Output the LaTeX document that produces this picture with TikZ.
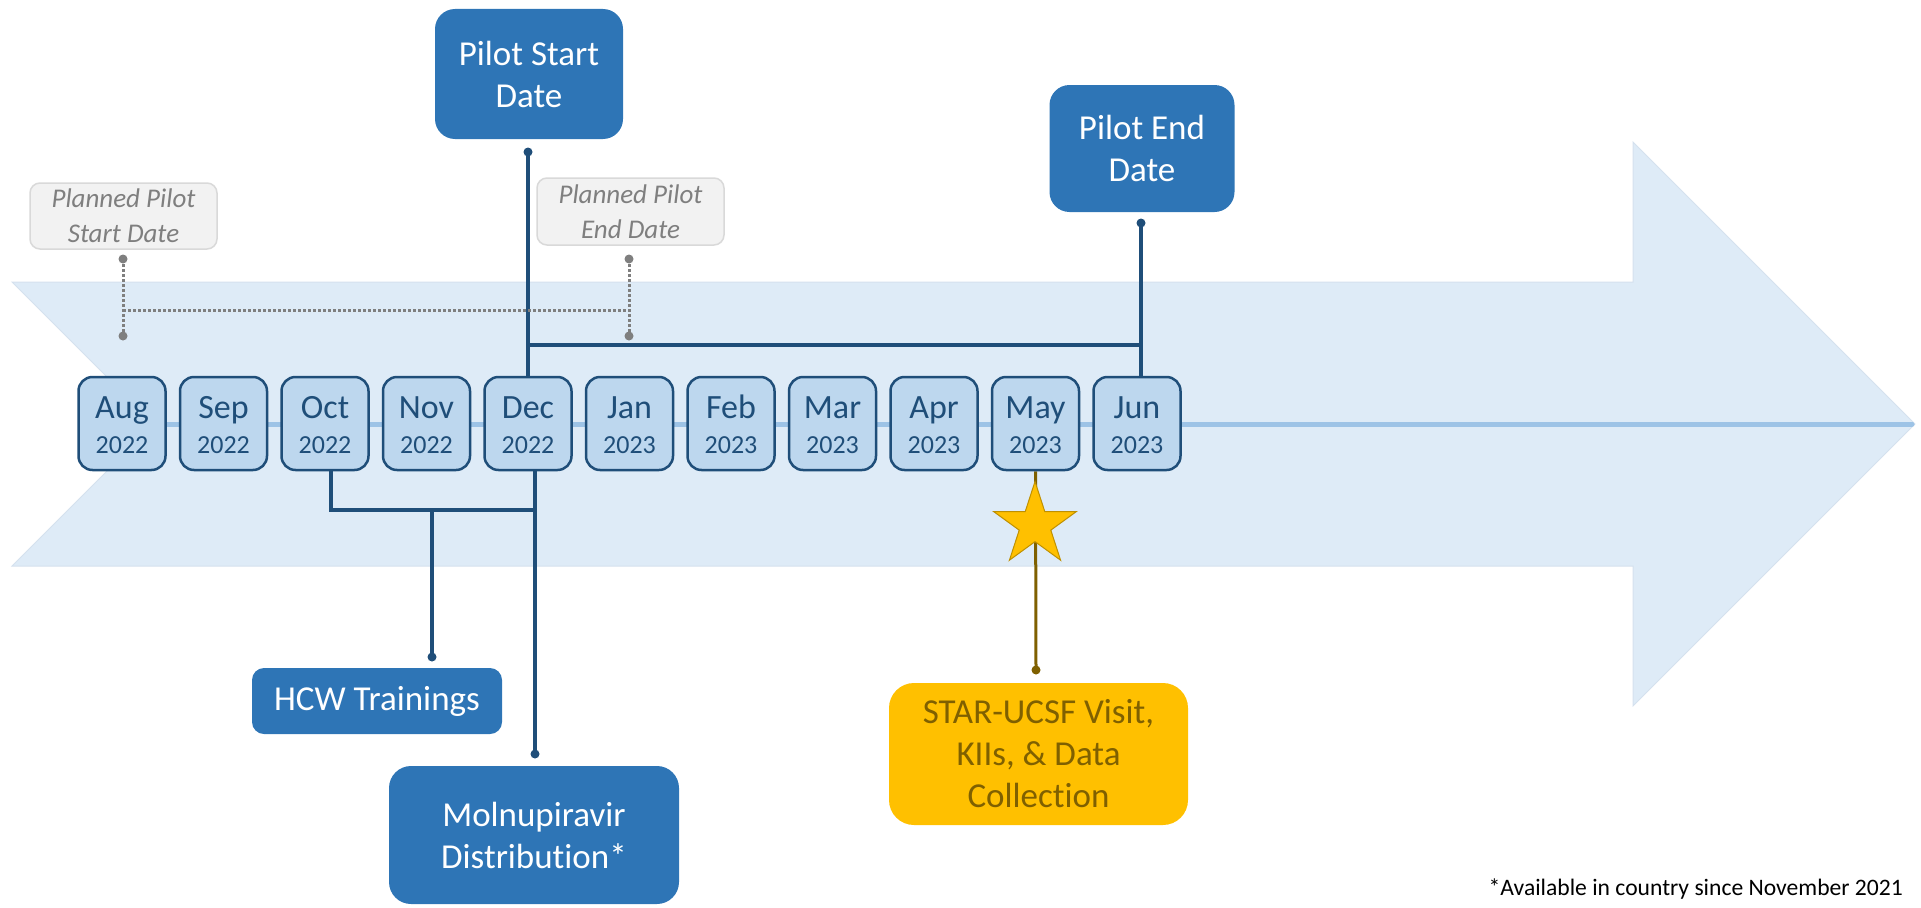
\documentclass[tikz,border=0pt]{standalone}
\usepackage{fontspec}
\setmainfont{Carlito}[Ligatures=NoCommon]
\usetikzlibrary{shapes.geometric,backgrounds}

\definecolor{arrowfill}{HTML}{DEEBF7}
\definecolor{arrowedge}{HTML}{D5E1EE}
\definecolor{axisline}{HTML}{9DC3E6}
\definecolor{monthfill}{HTML}{BDD7EE}
\definecolor{navy}{HTML}{1F4E79}
\definecolor{eventblue}{HTML}{2E75B6}
\definecolor{plangray}{HTML}{7F7F7F}
\definecolor{planfill}{HTML}{F2F2F2}
\definecolor{planedge}{HTML}{D9D9D9}
\definecolor{gold}{HTML}{FFC000}
\definecolor{goldedge}{HTML}{BF9000}
\definecolor{olive}{HTML}{7F6000}

\begin{document}
\begin{tikzpicture}[x=1pt,y=-1pt,
  monthbox/.style={draw=navy,line width=2.5pt,fill=monthfill,rounded corners=14pt,
    minimum width=87pt,minimum height=93pt,inner sep=0pt},
  monthtxt/.style={text=navy,font=\fontsize{34}{34}\selectfont,anchor=base,inner sep=0pt},
  yeartxt/.style={text=navy,font=\fontsize{26}{26}\selectfont,anchor=base,inner sep=0pt},
  eventbox/.style={fill=eventblue,text=white,rounded corners=20pt,align=center,
    inner sep=0pt,font=\fontsize{35}{42}\selectfont},
  planbox/.style={fill=planfill,draw=planedge,line width=1.5pt,text=plangray,
    rounded corners=10pt,align=center,inner sep=0pt,
    font=\itshape\fontsize{27}{35}\selectfont},
  goldbox/.style={fill=gold,text=olive,rounded corners=25pt,align=center,
    inner sep=0pt,font=\fontsize{35}{42}\selectfont},
  link/.style={draw=navy,line width=4pt},
  planlink/.style={draw=plangray,line width=3pt,dash pattern=on 2.5pt off 2.5pt},
  goldlink/.style={draw=olive,line width=3pt},
  pin/.style={circle,fill=navy,minimum size=9pt,inner sep=0pt},
  planpin/.style={circle,fill=plangray,minimum size=9pt,inner sep=0pt},
  goldpin/.style={circle,fill=olive,minimum size=9pt,inner sep=0pt}]

\useasboundingbox (0,0) rectangle (1921,907);

% month boxes along the time axis
\foreach \m/\yr [count=\i from 0] in {Aug/2022,Sep/2022,Oct/2022,Nov/2022,Dec/2022,
    Jan/2023,Feb/2023,Mar/2023,Apr/2023,May/2023,Jun/2023}{
  \node[monthbox] (m\i) at (122+101.5*\i,423.5) {};
  \node[monthtxt] (mt\i) at (122+101.5*\i,418) {\m};
  \node[yeartxt] (yt\i) at (122+101.5*\i,453) {\yr};
}

% milestone boxes
\node[eventbox,minimum width=188pt,minimum height=130pt] (start) at (529,74) {Pilot Start\\Date};
\node[eventbox,minimum width=185pt,minimum height=127pt] (end) at (1142,148.5) {Pilot End\\Date};
\node[planbox,minimum width=187pt,minimum height=66pt] (pstart) at (123.5,216) {Planned Pilot\\Start Date};
\node[planbox,minimum width=187pt,minimum height=67pt] (pend) at (630.5,211.5) {Planned Pilot\\End Date};
\node[eventbox,rounded corners=12pt,minimum width=250pt,minimum height=66pt] (hcw) at (377,701) {HCW Trainings};
\node[eventbox,rounded corners=22pt,minimum width=290pt,minimum height=138pt] (mol) at (534,835) {Molnupiravir\\Distribution*};
\node[goldbox,minimum width=299pt,minimum height=142pt] (visit) at (1038.5,754) {STAR-UCSF Visit,\\KIIs, \& Data\\Collection};

% pins at the free ends of the connectors
\node[pin] (startpin) at (528,152) {};
\node[pin] (endpin) at (1141,223) {};
\node[pin] (hcwpin) at (432,657) {};
\node[pin] (molpin) at (535,754) {};
\node[planpin] (ps1) at (123,259) {};
\node[planpin] (ps2) at (123,336) {};
\node[planpin] (pe1) at (629,259) {};
\node[planpin] (pe2) at (629,336) {};
\node[goldpin] (visitpin) at (1036,670) {};

% star marker for the visit
\node[star,star points=5,star point ratio=2.618,fill=gold,draw=goldedge,line width=1pt,
  minimum size=87pt,inner sep=0pt] (star) at (1035,525) {};

% footnote
\node[anchor=base east,inner sep=0pt,font=\fontsize{23.6}{28}\selectfont] (note)
  at (1903,895) {*Available in country since November 2021};

\begin{pgfonlayer}{background}
  % notched arrow band
  \draw[fill=arrowfill,draw=arrowedge,line width=1pt]
    (12,282) -- (1633,282) -- (1633,142) -- (1915,424) -- (1633,706)
    -- (1633,566) -- (12,566) -- (154,424) -- cycle;
  % time axis
  \coordinate (axisstart) at (122,424);
  \coordinate (tip) at (1912,424);
  \draw[draw=axisline,line width=5pt,line cap=round] (axisstart) -- (tip);

  % pilot start / end brackets
  \coordinate (hy) at (0,345);
  \draw[link] (startpin.center) -- (m4.north);
  \draw[link] (endpin.center) -- (endpin.center |- m10.north);
  \draw[link] (startpin.center |- hy) -- (endpin.center |- hy);

  % planned dates bracket
  \coordinate (py) at (0,310);
  \draw[planlink] (ps1.center) -- (ps2.center);
  \draw[planlink] (pe1.center) -- (pe2.center);
  \draw[planlink] (ps1.center |- py) -- (pe1.center |- py);

  % trainings and distribution
  \coordinate (lowy) at (0,510);
  \coordinate (octfoot) at ([xshift=6pt]m2.south);
  \coordinate (decfoot) at ([xshift=7pt]m4.south);
  \draw[link] (octfoot) -- (octfoot |- lowy) -- (decfoot |- lowy);
  \draw[link] (hcwpin.center) -- (hcwpin.center |- lowy);
  \draw[link] (decfoot) -- (molpin.center);

  % visit
  \draw[goldlink] (m9.south) -- (visitpin.center);
\end{pgfonlayer}
\end{tikzpicture}
\end{document}
